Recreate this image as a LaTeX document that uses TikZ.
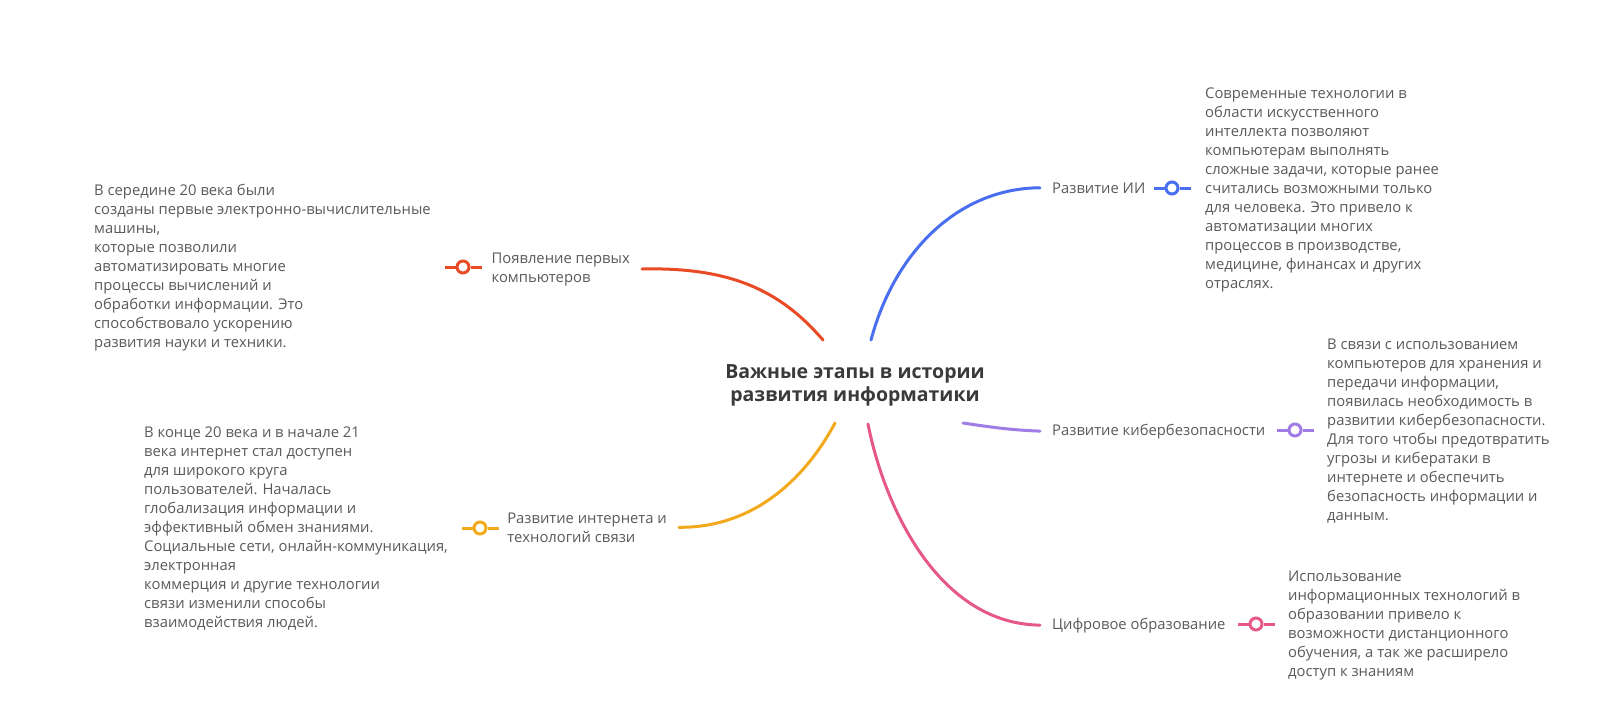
\documentclass[tikz,border=0pt]{standalone}
\usepackage{fontspec}
\setmainfont{Open Sans}
\definecolor{cred}{HTML}{E94B26}
\definecolor{cblue}{HTML}{4A6EF0}
\definecolor{cpurple}{HTML}{A07CE6}
\definecolor{cpink}{HTML}{E6588A}
\definecolor{cyellow}{HTML}{F2A91C}
\definecolor{txt}{HTML}{5A5A5A}
\definecolor{ttl}{HTML}{3A3A3A}
\begin{document}
\begin{tikzpicture}[x=1pt,y=-1pt,
  body/.style={font=\fontsize{14.8}{19}\selectfont, text=txt, align=left, inner sep=0pt, anchor=base west},
  lab/.style={font=\fontsize{14.8}{19}\selectfont, text=txt, align=left, inner ysep=0pt, inner xsep=12pt},
  ttlstyle/.style={font=\fontsize{19.5}{23}\selectfont\bfseries, text=ttl, align=center, inner sep=0pt, anchor=base},
  mk/.style={circle, draw=#1, fill=white, line width=3pt, minimum size=12pt, inner sep=0pt},
  br/.style={draw=#1, line width=3pt, line cap=round},
  stub/.style={draw=#1, line width=3pt}]
\useasboundingbox (0,0) rectangle (1605,716);
\fill[white] (0,0) rectangle (1605,716);

% title (anchor = baseline of the last line)
\node[ttlstyle] (root) at (855,401) {Важные этапы в истории\\развития информатики};

% anchor points of branches at the title
\coordinate (sr) at (823,340);
\coordinate (sb) at (871,340);
\coordinate (sp) at (963,423);
\coordinate (sy) at (835,423);
\coordinate (sk) at (868,424);

% labels
\node[lab, anchor=base east] (l1) at (642,282) {Появление первых\\компьютеров};
\node[lab, anchor=base west] (l2) at (1040,193) {Развитие ИИ};
\node[lab, anchor=base west] (l3) at (1040,435) {Развитие кибербезопасности};
\node[lab, anchor=base east] (l4) at (679,542) {Развитие интернета и\\технологий связи};
\node[lab, anchor=base west] (l5) at (1040,629) {Цифровое образование};

% branches
\draw[br=cred] (sr) .. controls (780,290) and (730,267) .. (l1.east);
\draw[br=cblue] (sb) .. controls (895,250) and (960,188) .. (l2.west);
\draw[br=cpurple] (sp) .. controls (990,427) and (1010,430) .. (l3.west);
\draw[br=cyellow] (sy) .. controls (810,470) and (760,528) .. (l4.east);
\draw[br=cpink] (sk) .. controls (885,510) and (940,624) .. (l5.west);

% markers
\node[mk=cred] (m1) at (463,267) {};
\node[mk=cblue] (m2) at (1172,188) {};
\node[mk=cpurple] (m3) at (1295,430) {};
\node[mk=cyellow] (m4) at (480,528) {};
\node[mk=cpink] (m5) at (1256,624) {};
\foreach \m/\c in {m1/cred,m2/cblue,m3/cpurple,m4/cyellow,m5/cpink}{
  \draw[stub=\c] (\m.west) -- ++(-11,0);
  \draw[stub=\c] (\m.east) -- ++(11,0);
}

% details (anchor = baseline of the last line)
\node[body] (d1) at (94,347) {В середине 20 века были\\созданы первые электронно-вычислительные\\машины,\\которые позволили\\автоматизировать многие\\процессы вычислений и\\обработки информации. Это\\способствовало ускорению\\развития науки и техники.};
\node[body] (d2) at (1205,288) {Современные технологии в\\области искусственного\\интеллекта позволяют\\компьютерам выполнять\\сложные задачи, которые ранее\\считались возможными только\\для человека. Это привело к\\автоматизации многих\\процессов в производстве,\\медицине, финансах и других\\отраслях.};
\node[body] (d3) at (1327,520) {В связи с использованием\\компьютеров для хранения и\\передачи информации,\\появилась необходимость в\\развитии кибербезопасности.\\Для того чтобы предотвратить\\угрозы и кибератаки в\\интернете и обеспечить\\безопасность информации и\\данным.};
\node[body] (d4) at (144,627) {В конце 20 века и в начале 21\\века интернет стал доступен\\для широкого круга\\пользователей. Началась\\глобализация информации и\\эффективный обмен знаниями.\\Социальные сети, онлайн-коммуникация,\\электронная\\коммерция и другие технологии\\связи изменили способы\\взаимодействия людей.};
\node[body] (d5) at (1288,676) {Использование\\информационных технологий в\\образовании привело к\\возможности дистанционного\\обучения, а так же расширело\\доступ к знаниям};
\end{tikzpicture}
\end{document}
